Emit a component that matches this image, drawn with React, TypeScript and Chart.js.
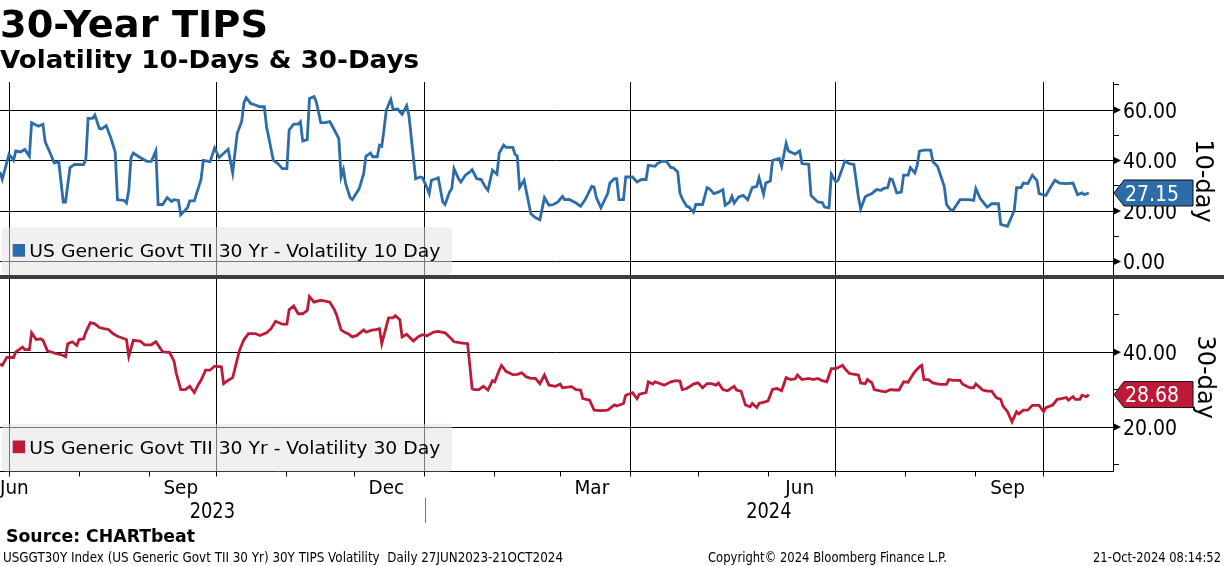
import React, { useEffect, useLayoutEffect, useRef } from 'react';
import { Chart, registerables } from 'chart.js';

Chart.register(...registerables);

// ---------- data (x = calendar days since 27-Jun-2023) ----------
const START_DATE = '2023-06-27';

const days10 = [0,1,4,6,7,9,11,13,14,17,19,20,22,24,26,28,29,31,33,37,38,39,41,42,44,45,47,49,51,52,55,56,57,58,59,62,65,67,69,70,72,74,76,77,79,80,83,84,86,89,90,93,95,97,101,103,105,107,108,109,111,113,115,117,118,121,123,125,127,128,130,132,133,134,136,137,139,140,142,144,146,148,150,151,152,153,155,156,159,161,162,164,165,167,168,169,170,171,173,174,176,178,180,181,184,186,187,189,190,191,193,194,196,197,199,200,201,203,204,206,208,209,211,213,215,216,218,220,221,223,224,227,228,229,230,232,235,237,239,241,243,245,247,249,250,252,255,257,259,260,262,263,264,266,269,270,272,273,274,276,277,280,282,284,286,287,290,291,293,295,297,298,300,301,302,304,305,307,308,311,313,314,316,318,320,321,323,324,325,327,329,331,333,335,336,338,339,341,342,345,346,348,349,352,354,355,358,359,362,364,365,367,368,370,371,373,374,376,378,380,381,383,384,386,388,390,391,393,394,395,397,399,400,402,403,405,406,407,409,412,413,415,418,419,421,422,425,428,429,431,432,434,437,439,442,443,446,449,450,452,453,455,457,459,460,463,465,467,469,472,475,477,479,480,482];
const vol10 = [35.5,32.6,42.5,40.1,43.8,43.4,44.4,41.7,55,53.6,54.4,47.4,43.4,39.1,39.5,23.6,23.6,37.2,38.5,38.4,40.5,56.7,56.7,58,52.7,52.5,53.8,49.1,43.4,24.5,24.2,23.2,28.2,41.2,43,41.2,39.7,39.7,43.8,22.6,22.6,25.3,23.8,24.5,24.2,18.5,21.3,24,24,32.5,40.1,39.6,45,41.2,44.5,35.1,50.7,55.6,62.9,64.9,62.6,62,61.3,61.3,53.4,40.1,38.8,36.8,36.8,52.1,54.4,54.4,55.4,47.8,48.3,64.6,65.3,63.3,55,55,55.4,52.1,48.7,33.5,36.4,30.9,25.3,24.5,28.9,34.8,41.7,43,41.5,41.5,46.1,45.7,52.3,60,64.2,60.3,60.4,58.3,61.7,58,32.8,33.5,33.2,29.3,26.9,32.2,32.8,33.2,23.6,22.6,27.5,28.9,36.8,32.8,31.5,34.2,35.5,36.4,32.8,32.5,29.3,28.2,36.2,34.6,43,46.1,45.2,45.2,42.5,41.7,29.3,32.2,18.9,17.4,16.6,25.3,22.3,22.6,23.6,25.8,24.5,24.6,23.2,21.9,24.5,26.2,29.8,29.5,25.3,21.3,26.9,31.1,32.8,32.8,24.5,24.5,33.5,33.5,31.5,32.5,32.5,38.1,37.7,38.8,39.7,39.7,37.2,37.2,35.5,27.2,24.9,21.9,21.6,19.6,22.6,22.6,29.3,28.9,26.9,27.5,28.5,22.3,23.6,25.8,23.2,25.6,26.2,24.5,29.3,29.8,33.2,26.6,31.1,31.9,40.1,40.8,37.7,46.8,43.8,42.5,43.8,38.8,38.5,26.2,23.6,23.4,21.6,21.3,34.6,31.5,32.2,37.2,39.7,38.8,38.5,25.6,20.9,25.6,26.2,26.9,28.5,28.2,28.9,29.3,32.8,32.5,27.2,27.5,34.2,34.2,37.2,35.1,38.1,43.7,44.1,44.1,39.5,37.7,29.8,22.6,20.3,20.5,24.5,24.5,24.5,24.2,28.9,24.9,21.6,22.9,22.9,14.7,14,20.3,29.3,29.3,31.1,30.9,34.2,32.2,26.9,26.2,29.3,32.2,31.1,30.9,31.1,26.5,27.2,26.5,27.15];

const days30 = [0,1,3,6,7,10,11,13,14,16,18,19,21,23,25,27,29,30,32,34,35,37,38,40,42,44,46,48,50,52,55,56,57,59,62,64,67,69,72,75,77,78,80,82,84,86,88,89,91,93,95,98,99,101,103,104,106,108,110,113,115,118,120,122,125,127,128,130,132,134,136,137,139,142,144,146,148,149,151,153,154,156,158,161,162,165,166,168,169,172,174,175,177,178,180,183,185,187,189,192,194,197,199,201,204,207,209,210,212,214,216,218,219,221,222,224,227,229,231,233,235,237,239,241,243,246,248,249,253,255,257,258,261,263,266,269,272,273,276,277,280,282,283,286,287,289,290,294,297,299,301,302,304,307,309,311,313,315,317,318,320,322,325,326,328,330,332,333,335,336,339,340,342,344,346,348,350,352,353,355,358,360,362,364,366,368,370,373,374,376,379,380,381,383,384,386,387,390,392,394,396,398,400,402,404,405,407,408,409,411,413,416,419,420,422,425,426,429,431,432,435,437,439,441,443,444,446,448,450,451,453,455,457,460,462,463,466,468,470,472,473,475,476,478,479,481,482];
const vol30 = [36.8,36.5,38.6,38.6,40.1,41.4,40.7,40.7,45.2,43.4,43.6,43.2,40.4,40,39.6,39.4,38.8,42.3,42.8,41.8,43.4,43.6,45.4,47.9,47.6,46.6,46.3,46.1,45,44.3,43.6,43.4,38.9,43.2,43,42,42,42.8,40.1,40,37.7,34.5,30,30,30.9,29.2,31.6,32.5,35.2,35.2,36.3,36.1,31.6,32.5,33.2,35.6,40.5,43.4,45,45,44.5,45.2,46.3,48.3,47.5,47.5,51.4,52.4,50.3,50.3,51.2,54.9,53.4,53.9,53.7,53.4,51.4,50,46,45.2,45,44.1,44.5,46,45.4,46,46,46.3,42.3,49.2,49.2,49.8,48.7,44.1,44.8,43,44.1,44.7,44.4,45.4,45.6,45.2,44.1,42.8,42.5,42.3,30.3,30,30,30.9,29.9,32.4,32.1,35.2,36.5,34.9,34,34.1,34.5,33.4,33,33,31.6,33.9,31.2,30.9,31.5,30.5,30.8,30,29.9,27.6,27.2,24.5,24.4,24.5,25.9,25.6,26.3,28.5,29.2,27.6,28.8,29.2,32.1,31.5,32.1,31.2,32.1,32.4,32.3,30,30.3,31.5,31.8,30.5,31.6,31.6,31.2,31.8,30,29.7,30.9,29.9,29.6,25.9,25.4,26.3,25.2,26.3,26.8,27,30.1,30.3,29.7,33.2,32.7,32.9,33.9,32.7,33,32.7,33,32.4,32.1,35.6,35.6,36.5,35.6,34.3,34,33.9,31.8,31.6,32.7,31.8,30,29.6,29.4,30,29.9,29.9,32.1,32,33.9,34.8,36.1,36.5,32.7,32.7,31.8,31.4,31.4,32.7,32.5,32.5,31.5,30.6,30.5,31.5,29.9,29.6,29.6,27.9,27.4,25.6,24.1,21.4,24.1,23.5,24.5,24.5,25.8,25.8,24.1,25.2,25.9,27.4,27.6,27.9,27.2,28.1,27.4,27.4,28.5,28.1,28.68];

const monthStarts = ['2023-07-01','2023-08-01','2023-09-01','2023-10-01','2023-11-01','2023-12-01','2024-01-01','2024-02-01','2024-03-01','2024-04-01','2024-05-01','2024-06-01','2024-07-01','2024-08-01','2024-09-01','2024-10-01'];
const quarterStarts = ['2023-07-01','2023-10-01','2024-01-01','2024-04-01','2024-07-01','2024-10-01'];
const monthLabels = ['Jun','Sep','Dec','Mar','Jun','Sep'];
const monthLabelDates = ['2023-06-15','2023-09-15','2023-12-15','2024-03-15','2024-06-15','2024-09-15'];
const yearLabels = ['2023','2024'];
const yearBoundary = '2024-01-01';
const ticks10 = [0,10,20,30,40,50,60,70];
const majors10 = [0,20,40,60];
const ticks30 = [10,20,30,40,50];
const majors30 = [20,40];

const legend10 = 'US Generic Govt TII 30 Yr - Volatility 10 Day';
const legend30 = 'US Generic Govt TII 30 Yr - Volatility 30 Day';

// ---------- styling ----------
const BLUE = '#2b6ca9';
const RED = '#be1a38';
const FONT = '"DejaVu Sans", "Noto Sans", sans-serif';

const dayOf = (iso: string) =>
  Math.round((Date.parse(iso + 'T00:00:00Z') - Date.parse(START_DATE + 'T00:00:00Z')) / 86400000);

const quarterSet = new Set(quarterStarts.map(dayOf));

function drawText(ctx: CanvasRenderingContext2D, text: string, x: number, y: number, size: number,
  color: string, align: 'left' | 'center' | 'right', sx = 0.92, fitWidth?: number, bold = false) {
  ctx.save();
  ctx.font = `${bold ? 'bold ' : ''}${size}px ${FONT}`;
  ctx.fillStyle = color;
  ctx.textBaseline = 'alphabetic';
  ctx.textAlign = 'left';
  const nat = ctx.measureText(text).width;
  const s = fitWidth ? fitWidth / nat : sx;
  const w = nat * s;
  let left = align === 'left' ? x : align === 'center' ? x - w / 2 : x - w;
  ctx.translate(left, y);
  ctx.scale(s, 1);
  ctx.fillText(text, 0, 0);
  ctx.restore();
  return w;
}

const decorPlugin = {
  id: 'bbgDecor',
  beforeDatasetsDraw(chart: any) {
    const ctx: CanvasRenderingContext2D = chart.ctx;
    const yTop = chart.scales.y10;
    const yBot = chart.scales.y30;
    const drawLegend = (panelBottom: number, color: string, text: string) => {
      const top = panelBottom - 47.7;
      ctx.save();
      ctx.fillStyle = 'rgba(226,226,226,0.53)';
      ctx.beginPath();
      (ctx as any).roundRect(1.7, top, 450.3, 47.7, 4);
      ctx.fill();
      ctx.fillStyle = color;
      ctx.fillRect(12.7, panelBottom - 31, 12.3, 12.7);
      ctx.restore();
      drawText(ctx, text, 29.3, panelBottom - 17.7, 18.5, '#000', 'left', 1, 411);
    };
    drawLegend(275, BLUE, legend10);
    drawLegend(yBot.bottom, RED, legend30);
    void yTop;
  },
  afterDraw(chart: any) {
    const ctx: CanvasRenderingContext2D = chart.ctx;
    const area = chart.chartArea;
    const x = chart.scales.x;
    const yTop = chart.scales.y10;
    const yBot = chart.scales.y30;
    const axisX = area.right;

    // separator between panels
    ctx.save();
    ctx.fillStyle = '#3d3d3d';
    ctx.fillRect(0, 275, chart.width, 4);
    ctx.restore();

    // right axis labels with arrow markers
    const axisLabels = (scale: any, majors: number[]) => {
      majors.forEach((v) => {
        const py = scale.getPixelForValue(v);
        ctx.save();
        ctx.fillStyle = '#000';
        ctx.beginPath();
        ctx.moveTo(axisX, py - 4);
        ctx.lineTo(axisX + 8, py);
        ctx.lineTo(axisX, py + 4);
        ctx.closePath();
        ctx.fill();
        ctx.restore();
        drawText(ctx, v.toFixed(2), axisX + 10, py + 7.6, 21, '#000', 'left', 0.9);
      });
    };
    axisLabels(yTop, majors10);
    axisLabels(yBot, majors30);

    // last value badges
    const badge = (scale: any, value: number, color: string) => {
      const cy = scale.getPixelForValue(value);
      ctx.save();
      ctx.fillStyle = color;
      ctx.strokeStyle = '#111';
      ctx.lineWidth = 1;
      ctx.beginPath();
      ctx.moveTo(axisX + 1, cy);
      ctx.lineTo(axisX + 11, cy - 13);
      ctx.lineTo(axisX + 80, cy - 13);
      ctx.lineTo(axisX + 80, cy + 13);
      ctx.lineTo(axisX + 11, cy + 13);
      ctx.closePath();
      ctx.fill();
      ctx.stroke();
      ctx.restore();
      drawText(ctx, value.toFixed(2), axisX + 12, cy + 7.6, 21, '#fff', 'left', 0.9);
    };
    badge(yTop, vol10[vol10.length - 1], BLUE);
    badge(yBot, vol30[vol30.length - 1], RED);

    // rotated axis titles
    const rotated = (text: string, cx: number, cy: number) => {
      ctx.save();
      ctx.translate(cx, cy);
      ctx.rotate(Math.PI / 2);
      ctx.font = `24px ${FONT}`;
      ctx.fillStyle = '#000';
      ctx.textAlign = 'center';
      ctx.textBaseline = 'alphabetic';
      ctx.fillText(text, 0, 0.729 * 24 / 2);
      ctx.restore();
    };
    rotated('10-day', 1205, yTop.top + 99);
    rotated('30-day', 1207, yBot.top + 100.5);

    // month labels
    monthLabels.forEach((lab, i) => {
      const cx = x.getPixelForValue(dayOf(monthLabelDates[i]));
      ctx.save();
      ctx.font = `20px ${FONT}`;
      const w = ctx.measureText(lab).width * 0.92;
      ctx.restore();
      let left = cx - w / 2;
      if (left < area.left) left = area.left;
      drawText(ctx, lab, left, 494, 20, '#000', 'left', 0.92);
    });

    // year labels and divider
    const xb = x.getPixelForValue(dayOf(yearBoundary));
    drawText(ctx, yearLabels[0], (area.left + xb) / 2, 518.3, 20.5, '#000', 'center', 0.87);
    drawText(ctx, yearLabels[1], (xb + area.right) / 2, 518.3, 20.5, '#000', 'center', 0.87);
    ctx.save();
    ctx.strokeStyle = '#777';
    ctx.lineWidth = 1;
    ctx.beginPath();
    ctx.moveTo(Math.round(xb) + 0.5, 498);
    ctx.lineTo(Math.round(xb) + 0.5, 523);
    ctx.stroke();
    ctx.restore();
  },
};

function FitText(props: { text: string; left: number; baseline: number; size: number; width: number; bold?: boolean }) {
  const ref = useRef<HTMLDivElement>(null);
  useLayoutEffect(() => {
    const el = ref.current;
    if (!el) return;
    el.style.transform = 'none';
    const w = el.getBoundingClientRect().width;
    if (w > 0) el.style.transform = `scaleX(${props.width / w})`;
  }, [props.text, props.width, props.size]);
  return (
    <div
      ref={ref}
      style={{
        position: 'absolute',
        left: props.left,
        top: props.baseline - 0.846 * props.size,
        fontFamily: FONT,
        fontSize: props.size,
        fontWeight: props.bold ? 700 : 400,
        lineHeight: `${props.size}px`,
        whiteSpace: 'pre',
        transformOrigin: '0 0',
        color: '#000',
      }}
    >
      {props.text}
    </div>
  );
}

export default function App() {
  const canvasRef = useRef<HTMLCanvasElement>(null);

  useEffect(() => {
    document.body.style.margin = '0';
    const canvas = canvasRef.current;
    if (!canvas) return;
    const chart = new Chart(canvas, {
      type: 'line',
      data: {
        datasets: [
          {
            label: legend10,
            data: days10.map((d, i) => ({ x: d, y: vol10[i] })),
            yAxisID: 'y10',
            borderColor: BLUE,
            borderWidth: 2.8,
            pointRadius: 0,
            tension: 0,
            fill: false,
          },
          {
            label: legend30,
            data: days30.map((d, i) => ({ x: d, y: vol30[i] })),
            yAxisID: 'y30',
            borderColor: RED,
            borderWidth: 2.8,
            pointRadius: 0,
            tension: 0,
            fill: false,
          },
        ],
      },
      options: {
        animation: false,
        responsive: false,
        events: [],
        layout: { padding: { top: 82, left: 0, right: 0, bottom: 0 } },
        plugins: { legend: { display: false }, tooltip: { enabled: false }, title: { display: false } },
        scales: {
          x: {
            type: 'linear',
            position: 'bottom',
            min: 0,
            max: 492.7,
            bounds: 'data',
            afterBuildTicks: (s: any) => {
              s.ticks = monthStarts.map((d) => ({ value: dayOf(d) }));
            },
            afterFit: (s: any) => {
              s.height = 94.5;
            },
            ticks: { display: false },
            grid: {
              color: (c: any) => (c.tick && quarterSet.has(c.tick.value) ? '#000' : 'rgba(0,0,0,0)'),
              tickColor: '#000',
              tickLength: 5,
              lineWidth: 1,
              drawTicks: true,
            },
            border: { display: true, color: '#000', width: 1 },
          },
          y10: {
            type: 'linear',
            position: 'right',
            stack: 'panels',
            stackWeight: 1,
            min: -6,
            max: 71.1,
            bounds: 'data',
            afterBuildTicks: (s: any) => {
              s.ticks = ticks10.map((v) => ({ value: v }));
            },
            afterFit: (s: any) => {
              s.width = 111;
            },
            ticks: { display: false },
            grid: {
              color: (c: any) => (c.tick && c.tick.value % 20 === 0 ? '#000' : 'rgba(0,0,0,0)'),
              tickColor: (c: any) => (c.tick && c.tick.value % 20 === 0 ? 'rgba(0,0,0,0)' : '#000'),
              tickLength: 6,
              lineWidth: 1,
            },
            border: { display: true, color: '#000', width: 1 },
          },
          y30: {
            type: 'linear',
            position: 'right',
            stack: 'panels',
            stackWeight: 1,
            min: 8.1,
            max: 60.2,
            bounds: 'data',
            afterBuildTicks: (s: any) => {
              s.ticks = ticks30.map((v) => ({ value: v }));
            },
            afterFit: (s: any) => {
              s.width = 111;
            },
            ticks: { display: false },
            grid: {
              color: (c: any) => (c.tick && c.tick.value % 20 === 0 ? '#000' : 'rgba(0,0,0,0)'),
              tickColor: (c: any) => (c.tick && c.tick.value % 20 === 0 ? 'rgba(0,0,0,0)' : '#000'),
              tickLength: 6,
              lineWidth: 1,
            },
            border: { display: true, color: '#000', width: 1 },
          },
        },
      } as any,
      plugins: [decorPlugin as any],
    });
    return () => chart.destroy();
  }, []);

  return (
    <div style={{ position: 'absolute', left: 0, top: 0, width: 1224, height: 566, background: '#fff', overflow: 'hidden' }}>
      <canvas
        ref={canvasRef}
        width={1224}
        height={566}
        style={{ position: 'absolute', left: 0, top: 0, width: 1224, height: 566 }}
      />
      <FitText text="30-Year TIPS" left={0} baseline={37.3} size={37.5} width={268} bold />
      <FitText text="Volatility 10-Days & 30-Days" left={0} baseline={68.3} size={25} width={419} bold />
      <FitText text="Source: CHARTbeat" left={6} baseline={542.7} size={17.5} width={189} bold />
      <FitText
        text="USGGT30Y Index (US Generic Govt TII 30 Yr) 30Y TIPS Volatility  Daily 27JUN2023-21OCT2024"
        left={2.7}
        baseline={562.3}
        size={13.3}
        width={560}
      />
      <FitText text="Copyright© 2024 Bloomberg Finance L.P." left={708} baseline={562.3} size={13.3} width={239} />
      <FitText text="21-Oct-2024 08:14:52" left={1093} baseline={562.3} size={13.3} width={128} />
    </div>
  );
}
